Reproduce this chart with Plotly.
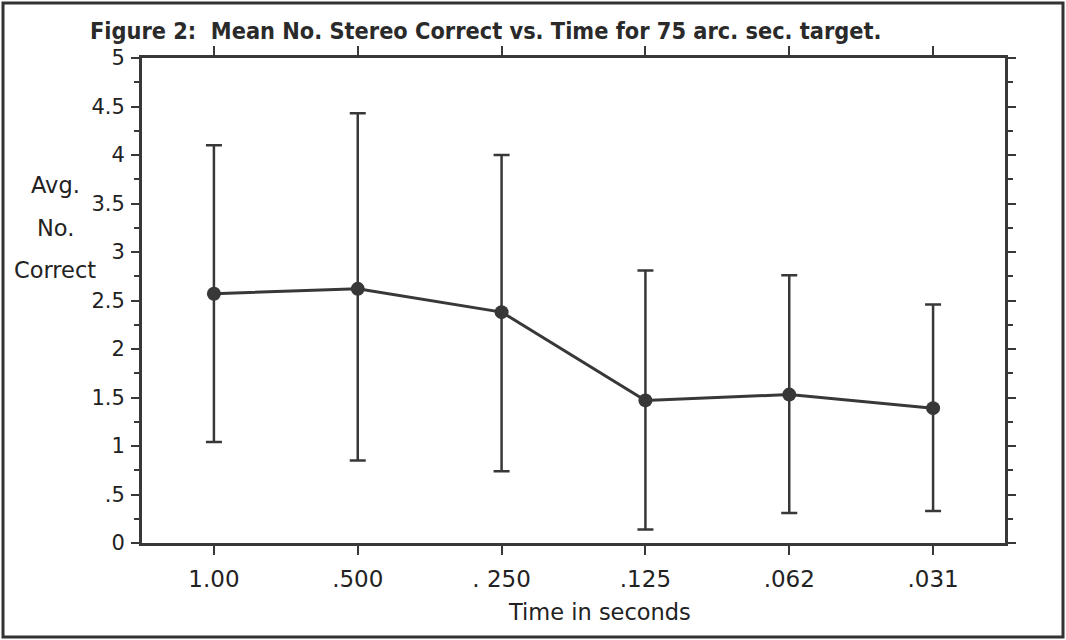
import plotly.graph_objects as go

time_labels = ["1.00", ".500", ". 250", ".125", ".062", ".031"]
mean_correct = [2.57, 2.62, 2.38, 1.47, 1.53, 1.39]
err_upper = [4.10, 4.43, 4.00, 2.81, 2.76, 2.46]
err_lower = [1.04, 0.85, 0.74, 0.14, 0.31, 0.33]
y_tickvals = [0, 0.5, 1, 1.5, 2, 2.5, 3, 3.5, 4, 4.5, 5]
y_ticktext = ["0", ".5", "1", "1.5", "2", "2.5", "3", "3.5", "4", "4.5", "5"]

x_pos = list(range(len(time_labels)))
plus = [u - m for u, m in zip(err_upper, mean_correct)]
minus = [m - l for m, l in zip(mean_correct, err_lower)]

ink = "#383838"
font_family = "DejaVu Sans, Verdana, sans-serif"

fig = go.Figure()
fig.add_trace(go.Scatter(
    x=x_pos, y=mean_correct, mode="lines+markers",
    line=dict(color=ink, width=3),
    marker=dict(color=ink, size=14),
    error_y=dict(type="data", symmetric=False, array=plus, arrayminus=minus,
                 color=ink, thickness=2.5, width=8),
    showlegend=False,
))

L, R, T, B = 142, 61, 58, 97
W, H = 1066, 640
pw, ph = W - L - R, H - T - B

def px(X):
    return (X - L) / pw

def py(Y):
    return (H - B - Y) / ph

fig.update_layout(
    width=W, height=H,
    margin=dict(l=L, r=R, t=T, b=B),
    paper_bgcolor="white", plot_bgcolor="white",
    font=dict(family=font_family, size=20, color="#222"),
    xaxis=dict(
        range=[-0.5, 5.5], tickmode="array", tickvals=x_pos, ticktext=time_labels,
        showgrid=False, zeroline=False, showline=True, linecolor=ink, linewidth=3,
        ticks="outside", ticklen=9, tickwidth=2, tickcolor=ink, mirror="ticks",
        tickfont=dict(size=23), ticklabelstandoff=4,
    ),
    yaxis=dict(
        range=[0, 5], tickmode="array", tickvals=y_tickvals, ticktext=y_ticktext,
        showgrid=False, zeroline=False, showline=True, linecolor=ink, linewidth=3,
        ticks="outside", ticklen=8, tickwidth=2, tickcolor=ink, mirror="ticks",
        minor=dict(dtick=0.25, tick0=0, ticks="outside", ticklen=5, tickwidth=2, tickcolor=ink),
        tickfont=dict(size=21), ticklabelstandoff=2,
    ),
    title=dict(text="Figure 2:&nbsp; Mean No. Stereo Correct vs. Time for 75 arc. sec. target.",
               x=90 / W, xanchor="left", y=1 - 31 / H, yanchor="middle",
               font=dict(size=23.3, color="#2a2a2a", weight="bold",
                         family="DejaVu Sans Condensed, DejaVu Sans, sans-serif")),
)

fig.add_annotation(text="Time in seconds", xref="paper", yref="paper", x=px(599), y=py(612),
                   xanchor="center", yanchor="middle", showarrow=False,
                   font=dict(size=22.5, color="#222"))

for txt, Y in [("Avg.", 185), ("No.", 228), ("Correct", 270)]:
    fig.add_annotation(text=txt, xref="paper", yref="paper", x=px(55), y=py(Y),
                       xanchor="center", yanchor="middle", showarrow=False,
                       font=dict(size=22.5, color="#222"))

fig.add_shape(type="rect", xref="paper", yref="paper",
              x0=px(3), x1=px(1063), y0=py(637), y1=py(3),
              line=dict(color="#333", width=3), layer="below")

fig.write_html("out.html")
